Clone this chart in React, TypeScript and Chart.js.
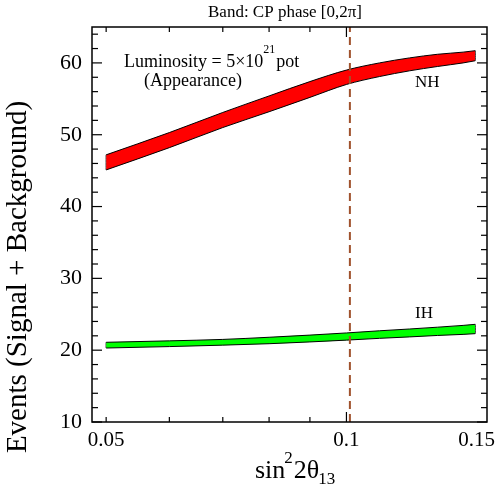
import React, { useEffect, useRef } from "react";
import { Chart, registerables } from "chart.js";

Chart.register(...registerables);

// ---- data ----
const X_VALUES = [0.05, 0.06, 0.07, 0.08, 0.09, 0.1, 0.11, 0.12, 0.13, 0.14, 0.145];
const NH_UPPER = [47.2, 50.3, 53.1, 55.4, 57.4, 59.0, 60.0, 60.7, 61.2, 61.5, 61.7];
const NH_LOWER = [45.1, 48.2, 51.0, 53.2, 55.2, 57.0, 58.1, 58.9, 59.5, 60.0, 60.3];
const IH_UPPER = [21.1, 21.3, 21.5, 21.8, 22.1, 22.4, 22.7, 22.95, 23.2, 23.45, 23.6];
const IH_LOWER = [20.3, 20.5, 20.7, 20.9, 21.15, 21.4, 21.65, 21.85, 22.05, 22.2, 22.3];
const VLINE_X = 0.101;

const X_MIN = 0.048;
const X_MAX = 0.15;
const Y_MIN = 10;
const Y_MAX = 65;
const X_TICK_LABELS = [0.05, 0.1, 0.15];
const X_MAJOR_TICKS = [0.1];
const X_MINOR_TICKS = [0.05, 0.06, 0.07, 0.08, 0.09];
const Y_TICK_LABELS = [10, 20, 30, 40, 50, 60];
const Y_MINOR_STEP = 2;

const SERIF = "'Liberation Serif', 'Times New Roman', serif";

const edge = (vals: number[]) => X_VALUES.map((x, i) => ({ x, y: vals[i] }));
const cap = (upper: number[], lower: number[], i: number) => [
  { x: X_VALUES[i], y: lower[i] },
  { x: X_VALUES[i], y: upper[i] },
];

const lineBase = {
  showLine: true,
  borderColor: "#000",
  borderWidth: 1,
  pointRadius: 0,
  cubicInterpolationMode: "monotone" as const,
};

const decorPlugin = {
  id: "decor",
  afterDraw(chart: any) {
    const { ctx, chartArea: a, scales } = chart;
    const xs = scales.x;
    const ys = scales.y;
    ctx.save();
    ctx.strokeStyle = "#000";
    ctx.lineWidth = 1.5;
    ctx.strokeRect(a.left, a.top, a.right - a.left, a.bottom - a.top);

    ctx.lineWidth = 1.2;
    const tick = (x1: number, y1: number, x2: number, y2: number) => {
      ctx.beginPath();
      ctx.moveTo(x1, y1);
      ctx.lineTo(x2, y2);
      ctx.stroke();
    };
    X_MAJOR_TICKS.forEach((v) => {
      const p = xs.getPixelForValue(v);
      tick(p, a.bottom, p, a.bottom - 10);
      tick(p, a.top, p, a.top + 10);
    });
    X_MINOR_TICKS.forEach((v) => {
      const p = xs.getPixelForValue(v);
      tick(p, a.bottom, p, a.bottom - 5);
      tick(p, a.top, p, a.top + 5);
    });
    for (let v = Y_MIN; v <= Y_MAX; v += Y_MINOR_STEP) {
      const p = ys.getPixelForValue(v);
      const len = v % 10 === 0 ? 10 : 6;
      tick(a.left, p, a.left + len, p);
      tick(a.right, p, a.right - len, p);
    }

    ctx.fillStyle = "#000";
    ctx.font = `21px ${SERIF}`;
    ctx.textBaseline = "alphabetic";
    ctx.textAlign = "center";
    X_TICK_LABELS.forEach((v) => {
      const t = String(v);
      const w = ctx.measureText(t).width;
      let p = xs.getPixelForValue(v);
      p = Math.min(p, chart.width - w / 2 - 3);
      ctx.fillText(t, p, a.bottom + 24);
    });

    ctx.font = `17px ${SERIF}`;
    ctx.fillText("Band: CP phase [0,2\u03c0]", 285, 17);

    ctx.save();
    ctx.translate(26, 277);
    ctx.rotate(-Math.PI / 2);
    ctx.font = `29px ${SERIF}`;
    ctx.textAlign = "center";
    ctx.fillText("Events (Signal + Background)", 0, 0);
    ctx.restore();

    ctx.textAlign = "left";
    let x = 255;
    const base = 478;
    ctx.font = `26px ${SERIF}`;
    ctx.fillText("sin", x, base);
    x += ctx.measureText("sin").width - 1;
    ctx.font = `17px ${SERIF}`;
    ctx.fillText("2", x, base - 15);
    x += ctx.measureText("2").width + 1;
    ctx.font = `26px ${SERIF}`;
    ctx.fillText("2\u03b8", x, base);
    x += ctx.measureText("2\u03b8").width - 1;
    ctx.font = `17px ${SERIF}`;
    ctx.fillText("13", x, base + 6);

    ctx.font = `18px ${SERIF}`;
    const lum = "Luminosity = 5\u00d710";
    ctx.fillText(lum, 124, 67);
    let lx = 124 + ctx.measureText(lum).width;
    ctx.font = `12px ${SERIF}`;
    ctx.fillText("21", lx, 53);
    lx += ctx.measureText("21").width + 1;
    ctx.font = `18px ${SERIF}`;
    ctx.fillText("pot", lx, 67);
    ctx.fillText("(Appearance)", 144, 86);

    ctx.font = `17px ${SERIF}`;
    ctx.fillText("NH", 415, 87);
    ctx.fillText("IH", 415, 318);
    ctx.restore();
  },
};

export default function App() {
  const ref = useRef<HTMLCanvasElement | null>(null);
  useEffect(() => {
    if (!ref.current) return;
    const last = X_VALUES.length - 1;
    const chart = new Chart(ref.current, {
      type: "scatter",
      data: {
        datasets: [
          {
            label: "vline",
            data: [
              { x: VLINE_X, y: Y_MIN },
              { x: VLINE_X, y: Y_MAX },
            ],
            showLine: true,
            borderColor: "#a0522d",
            borderWidth: 2,
            borderDash: [8, 5],
            pointRadius: 0,
            fill: false,
          },
          { ...lineBase, label: "NH lower", data: edge(NH_LOWER), fill: false },
          { ...lineBase, label: "NH upper", data: edge(NH_UPPER), fill: 1, backgroundColor: "#ff0000" },
          { ...lineBase, label: "NH cap L", data: cap(NH_UPPER, NH_LOWER, 0), fill: false },
          { ...lineBase, label: "NH cap R", data: cap(NH_UPPER, NH_LOWER, last), fill: false },
          { ...lineBase, label: "IH lower", data: edge(IH_LOWER), fill: false },
          { ...lineBase, label: "IH upper", data: edge(IH_UPPER), fill: 5, backgroundColor: "#00ff00" },
          { ...lineBase, label: "IH cap L", data: cap(IH_UPPER, IH_LOWER, 0), fill: false },
          { ...lineBase, label: "IH cap R", data: cap(IH_UPPER, IH_LOWER, last), fill: false },
        ],
      },
      options: {
        animation: false,
        responsive: false,
        maintainAspectRatio: false,
        layout: { padding: { top: 27, right: 11, left: 0, bottom: 0 } },
        plugins: { legend: { display: false }, tooltip: { enabled: false }, title: { display: false } },
        scales: {
          x: {
            type: "logarithmic",
            min: X_MIN,
            max: X_MAX,
            grid: { display: false, drawTicks: false },
            border: { display: false },
            ticks: { display: false },
            afterFit: (s: any) => {
              s.height = 65;
            },
          },
          y: {
            type: "linear",
            min: Y_MIN,
            max: Y_MAX,
            grid: { display: false, drawTicks: false },
            border: { display: false },
            afterBuildTicks: (s: any) => {
              s.ticks = Y_TICK_LABELS.map((v) => ({ value: v }));
            },
            ticks: {
              color: "#000",
              padding: 10,
              font: { family: SERIF, size: 22 },
              callback: (v: any) => String(v),
            },
            afterFit: (s: any) => {
              s.width = 92;
            },
          },
        },
      },
      plugins: [decorPlugin],
    });
    return () => chart.destroy();
  }, []);
  return (
    <div style={{ position: "fixed", left: 0, top: 0, width: 498, height: 487, background: "#fff" }}>
      <canvas ref={ref} width={498} height={487} />
    </div>
  );
}
